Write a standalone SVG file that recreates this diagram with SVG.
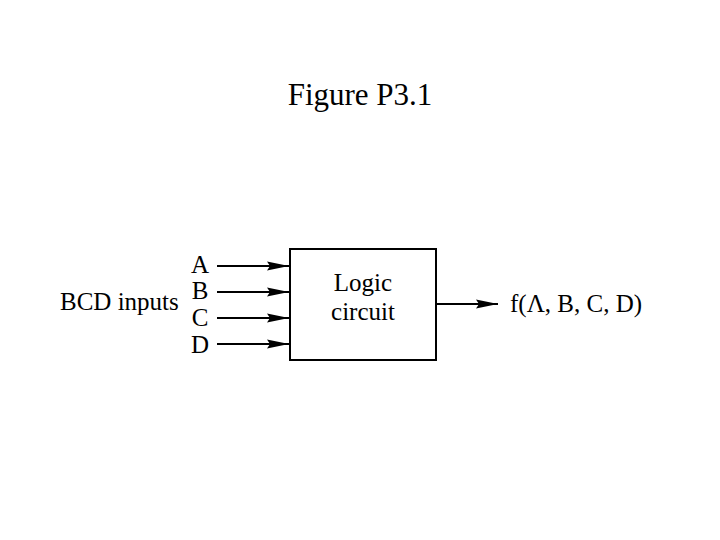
<svg xmlns="http://www.w3.org/2000/svg" width="720" height="540" viewBox="0 0 720 540">
<style>
text{font-family:"Liberation Serif","Times New Roman",serif;fill:#000}
.l{font-size:25px}
.w{stroke:#000;stroke-width:2;fill:none}
</style>
<defs>
<marker id="ah" markerUnits="userSpaceOnUse" markerWidth="22" markerHeight="10" refX="22" refY="5" orient="auto">
<path d="M0,0.5 L22,5 L0,9.5 L3,5 Z" fill="#000"/>
</marker>
</defs>
<rect width="720" height="540" fill="#fff"/>
<text x="360" y="105" font-size="31" text-anchor="middle">Figure P3.1</text>
<g id="labels">
<text class="l" x="60" y="310">BCD inputs</text>
<text class="l" x="200" y="273" text-anchor="middle">A</text>
<text class="l" x="200" y="299" text-anchor="middle">B</text>
<text class="l" x="200" y="326" text-anchor="middle">C</text>
<text class="l" x="200" y="353" text-anchor="middle">D</text>
</g>
<g id="logic">
<rect class="w" x="290" y="249" width="146" height="111"/>
<text class="l" x="363" y="291" text-anchor="middle">Logic</text>
<text class="l" x="363" y="320" text-anchor="middle">circuit</text>
</g>
<g id="output">
<text class="l" x="510" y="312">f(Λ, B, C, D)</text>
</g>
<g id="connectors">
<line class="w" x1="217" y1="266" x2="289" y2="266" marker-end="url(#ah)"/>
<line class="w" x1="217" y1="292" x2="289" y2="292" marker-end="url(#ah)"/>
<line class="w" x1="217" y1="318" x2="289" y2="318" marker-end="url(#ah)"/>
<line class="w" x1="217" y1="344" x2="289" y2="344" marker-end="url(#ah)"/>
<line class="w" x1="436" y1="304" x2="498" y2="304" marker-end="url(#ah)"/>
</g>
</svg>
